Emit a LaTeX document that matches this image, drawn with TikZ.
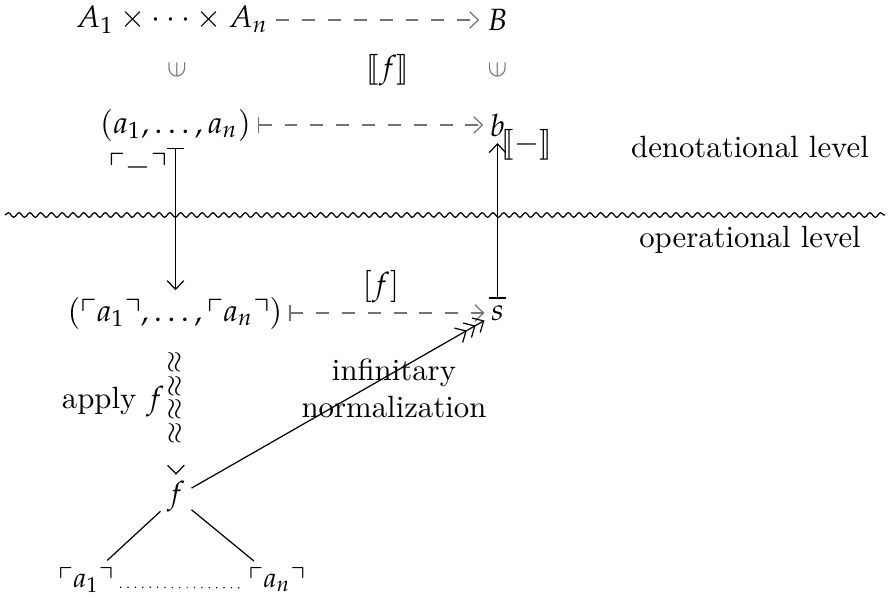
\documentclass[tikz,border=0pt]{standalone}
\usepackage{amsmath,amssymb}
\usepackage{mathpazo}
\usepackage{stmaryrd}
\usepackage{tikz}
\usetikzlibrary{arrows.meta, decorations.pathmorphing, decorations.markings}

\begin{document}
\begin{tikzpicture}[
        x=0.325pt, y=-0.325pt,
        obj/.style={inner sep=2pt},
        tip/.tip={Straight Barb[length=2.8pt, width=5.4pt]},
        dasharr/.style={black!55, dash pattern=on 4.2pt off 4.2pt, -tip},
        mapsto/.style={{Bar[width=5.4pt]}-tip},
        squig/.style={decorate, decoration={markings,
            mark=between positions 0.19 and 0.72 step 0.17 with {\node[rotate=90, inner sep=0pt, font=\small] {$\approx$};},
            mark=at position 1 with {\arrow{tip}}}},
        every node/.style={font=\normalsize}
    ]
        \useasboundingbox (0,0) rectangle (890,603);

        % denotational side
        \node[obj, inner sep=0.5pt] (prod) at (172,20) {$A_1\times\cdots\times A_n$};
        \node[obj, inner sep=0.5pt] (B) at (497.5,20) {$B$};
        \node[black!55, rotate=90, font=\small] (in1) at (177,70) {$\in$};
        \node[black!55, rotate=90, font=\small] (in2) at (497.5,70) {$\in$};
        \node (semf) at (388,70) {$\llbracket f\rrbracket$};
        \node[obj] (tup) at (175.5,125) {$(a_1,\ldots,a_n)$};
        \node[obj] (b) at (497.5,125) {$b$};

        % operational side
        \node[obj] (ctup) at (175,313) {$(\ulcorner a_1\urcorner,\ldots,\ulcorner a_n\urcorner)$};
        \node[obj] (s) at (497.5,313) {$s$};
        \node[obj] (f) at (176,497) {$f$};
        \node[obj, font=\small] (ca1) at (86,580) {$\ulcorner a_1\urcorner$};
        \node[obj, font=\small] (can) at (277,580) {$\ulcorner a_n\urcorner$};

        \draw[dasharr, shorten <=2pt, shorten >=2pt] (prod) -- (B);
        \draw[dasharr, {Bar[width=5.4pt]}-tip] (tup) -- (b);
        \draw[dasharr, {Bar[width=5.4pt]}-tip] (ctup) -- (s);
        \draw[mapsto] (tup.south) -- (tup.south |- ctup.north);
        \draw[mapsto] (s.north) -- (b.south);
        \path[squig] (ctup.south) -- (f.north);
        \draw[-{tip[] tip[] tip[]}] (f) -- (s);
        \draw (f) -- (ca1);
        \draw (f) -- (can);
        \draw[dotted] (ca1.base east) -- (can.base west);

        % labels
        \node at (138,166) {$\ulcorner{-}\urcorner$};
        \node at (527,145) {$\llbracket{-}\rrbracket$};
        \node at (381,287) {$[f]$};
        \node at (113,402) {apply $f$};
        \node[align=center] (norm) at (394,388) {infinitary\\normalization};
        \node (den) at (750,147) {denotational level};
        \node (op) at (750,240) {operational level};

        \coordinate (wl) at (5,215);
        \coordinate (wr) at (885,215);
        \draw[decorate, decoration={snake, amplitude=0.75pt, segment length=3.5pt}] (wl) -- (wr);
    \end{tikzpicture}
\end{document}
